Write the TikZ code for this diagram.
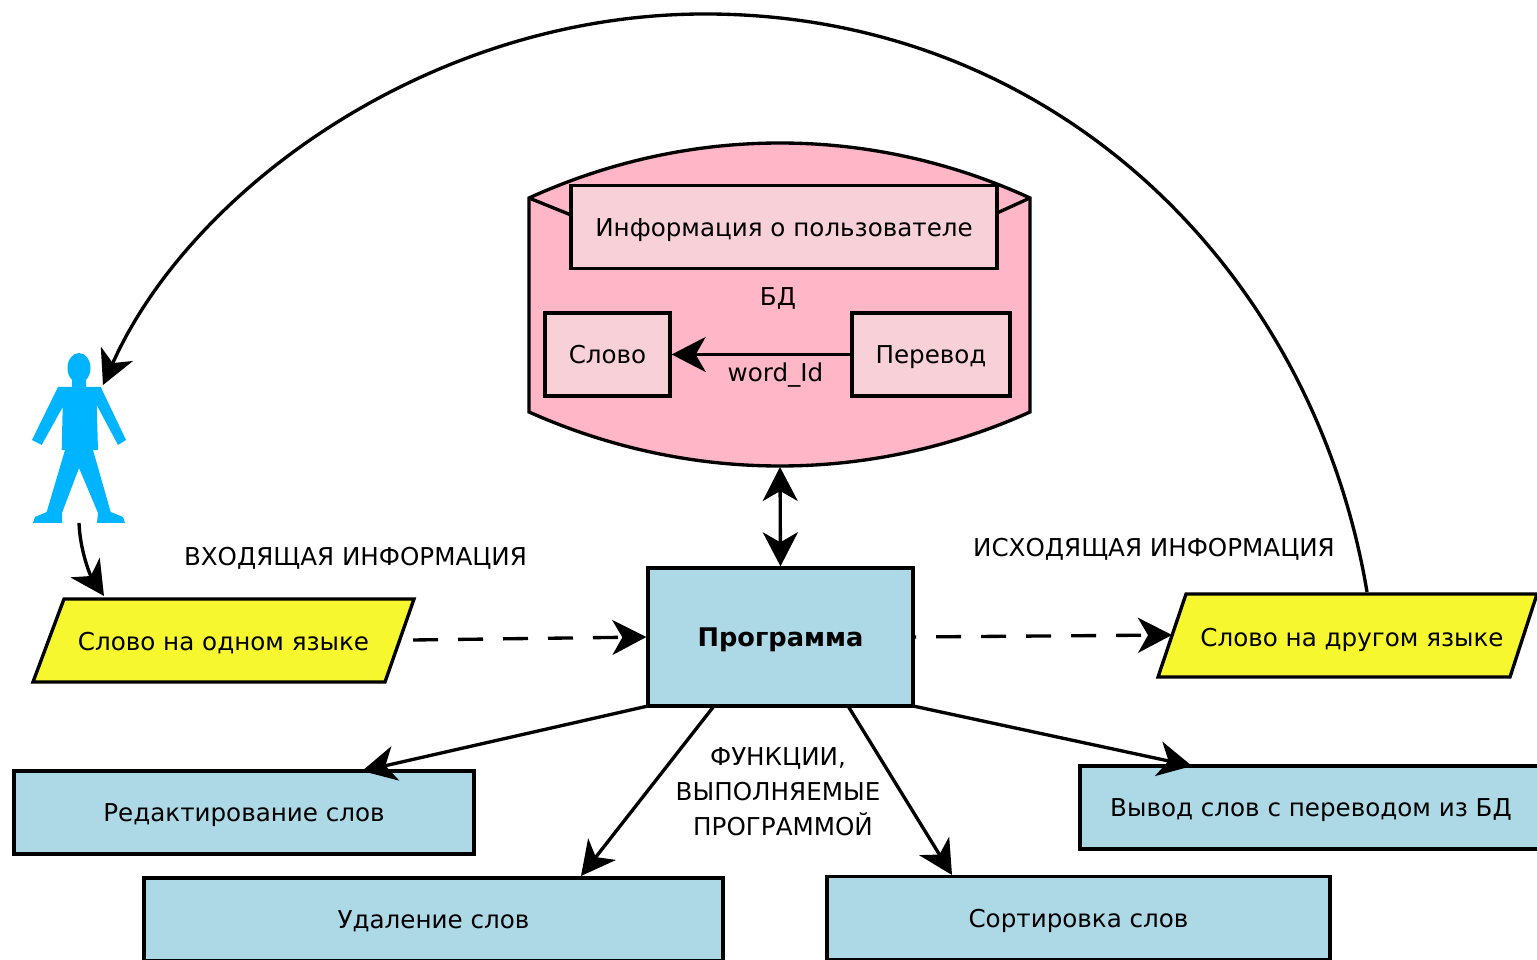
\documentclass[tikz,border=0pt]{standalone}
\usepackage{fontspec}
\setmainfont{DejaVu Sans}
\usetikzlibrary{arrows.meta}
\definecolor{dbpink}{RGB}{255,182,198}
\definecolor{tablepink}{RGB}{247,208,216}
\definecolor{progblue}{RGB}{173,216,230}
\definecolor{ioyellow}{RGB}{247,247,48}
\definecolor{mancyan}{RGB}{0,180,255}
\tikzset{
  line/.style={line width=0.95pt},
  tip/.style={-{Stealth[length=3.4mm,width=3.5mm,inset=1mm]}},
  bothtips/.style={{Stealth[length=3.4mm,width=3.5mm,inset=1mm]}-{Stealth[length=3.4mm,width=3.5mm,inset=1mm]}},
  plainlabel/.style={font=\fontsize{7}{10}\selectfont,inner sep=0pt},
  label/.style={plainlabel,text height=6.6pt,text depth=1.4pt},
  tablebox/.style={draw,line,fill=tablepink,label,minimum height=0.83cm},
  funcbox/.style={draw,line,fill=progblue,label,minimum height=0.83cm},
  iobox/.style={draw,line,fill=ioyellow},
}
\begin{document}
\begin{tikzpicture}
\useasboundingbox (0,0) rectangle (15.37,9.59);
%\draw[step=1cm,gray,very thin] (0,0) grid (15,9);

% database
\draw[line,fill=dbpink] (5.29,7.61) .. controls (6.9,8.343) and (8.7,8.343) .. (10.30,7.61)
  -- (10.30,5.47) .. controls (8.7,4.75) and (6.9,4.75) .. (5.29,5.47) -- cycle;
\draw[line] (5.29,7.61) -- (5.71,7.44);
\draw[line] (10.30,7.61) -- (9.97,7.46);
\coordinate (dbout) at (7.80,4.92);
\node[tablebox,minimum width=4.26cm] (userinfo) at (7.84,7.32) {Информация о пользователе};
\node[tablebox,minimum width=1.25cm] (word) at (6.075,6.045) {Слово};
\node[tablebox,minimum width=1.58cm] (transl) at (9.31,6.045) {Перевод};
\node[label] (dblabel) at (7.78,6.63) {БД};
\node[label] (wordid) at (7.755,5.87) {word\_Id};
\draw[line,tip] (transl) -- (word);

% program and functions
\node[funcbox,minimum width=2.65cm,minimum height=1.38cm,font=\fontsize{7.3}{10}\selectfont\bfseries] (prog) at (7.805,3.22) {Программа};
\node[funcbox,minimum width=4.6cm] (edit) at (2.44,1.465) {Редактирование слов};
\node[funcbox,minimum width=5.79cm] (remove) at (4.335,0.395) {Удаление слов};
\node[funcbox,minimum width=5.03cm] (sort) at (10.785,0.41) {Сортировка слов};
\node[funcbox,minimum width=4.62cm] (show) at (13.11,1.515) {Вывод слов с переводом из БД};
\node[plainlabel,align=center] (funclabel) at (7.78,1.67) {ФУНКЦИИ,\\ВЫПОЛНЯЕМЫЕ\\\hspace*{0.1cm}ПРОГРАММОЙ};

\coordinate (progA) at (6.48,2.53);
\coordinate (progB) at (7.14,2.53);
\coordinate (progC) at (8.48,2.53);
\coordinate (progD) at (9.13,2.53);
\coordinate (editin) at (3.62,1.88);
\coordinate (removein) at (5.81,0.83);
\coordinate (sortin) at (9.52,0.84);
\coordinate (showin) at (11.92,1.93);
\draw[line,tip] (progA) -- (editin);
\draw[line,tip] (progB) -- (removein);
\draw[line,tip] (progC) -- (sortin);
\draw[line,tip] (progD) -- (showin);
\draw[line,bothtips] (dbout) -- (prog.north);

% input and output
\draw[iobox,line] (0.64,3.60) -- (4.14,3.60) -- (3.85,2.77) -- (0.33,2.77) -- cycle;
\draw[iobox,line] (11.86,3.65) -- (15.37,3.65) -- (15.10,2.82) -- (11.58,2.82) -- cycle;
\node[label] (inword) at (2.235,3.18) {Слово на одном языке};
\node[label] (outword) at (13.52,3.22) {Слово на другом языке};
\node[label] (inlabel) at (3.555,4.03) {ВХОДЯЩАЯ ИНФОРМАЦИЯ};
\node[label] (outlabel) at (11.54,4.12) {ИСХОДЯЩАЯ ИНФОРМАЦИЯ};
\coordinate (infrom) at (4.13,3.19);
\coordinate (outto) at (11.72,3.24);
\coordinate (progout) at (9.13,3.22);
\draw[line,tip,dash pattern=on 0.25cm off 0.2cm] (infrom) -- (prog.west);
\draw[line,tip,dash pattern=on 0.25cm off 0.2cm,dash phase=0.22cm] (progout) -- (outto);

% user
\fill[mancyan] (0.58,5.72) -- (0.72,5.72) -- (0.72,5.82) -- (0.86,5.82) -- (0.86,5.72) -- (1.007,5.72)
  -- (1.26,5.19) -- (1.18,5.14) -- (0.967,5.54) -- (0.98,5.09)
  -- (0.93,5.09) -- (1.107,4.47) -- (1.23,4.42) -- (1.25,4.36) -- (0.97,4.36) -- (0.98,4.46)
  -- (0.79,4.91) -- (0.62,4.46) -- (0.62,4.36) -- (0.33,4.36) -- (0.35,4.42) -- (0.467,4.47)
  -- (0.65,5.09) -- (0.617,5.09) -- (0.627,5.52) -- (0.417,5.14) -- (0.32,5.19) -- cycle;
\fill[mancyan] (0.79,5.91) ellipse (0.115cm and 0.15cm);
\coordinate (userhead) at (1.03,5.74);
\coordinate (userfeet) at (0.79,4.36);
\coordinate (inwordtop) at (1.04,3.63);
\coordinate (outwordtop) at (13.67,3.67);
\draw[line,tip] (userfeet) .. controls (0.80,4.09) and (0.90,3.84) .. (inwordtop);
\draw[line,tip] (outwordtop) .. controls (13.13,6.89) and (10.55,9.45) .. (7.05,9.45)
  .. controls (4.30,9.45) and (1.90,7.69) .. (userhead);
\end{tikzpicture}
\end{document}
